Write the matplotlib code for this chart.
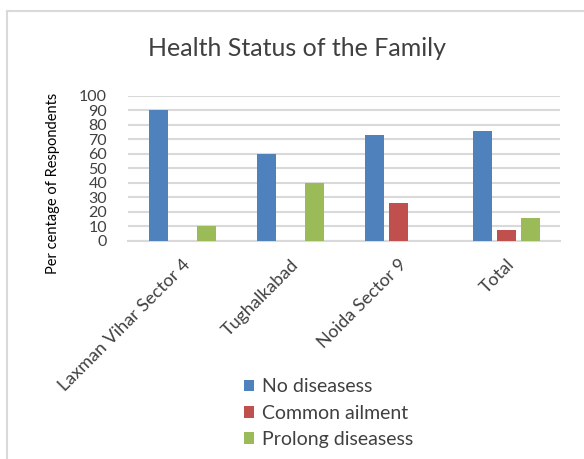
import matplotlib
matplotlib.use("Agg")
import matplotlib.pyplot as plt
import numpy as np
from matplotlib.lines import Line2D

categories = ["Laxman Vihar Sector 4", "Tughalkabad", "Noida Sector 9", "Total"]
series_names = ["No diseasess", "Common ailment", "Prolong diseasess"]
no_disease = [90, 60, 73, 76]
common_ailment = [0, 0, 26, 7.5]
prolong_disease = [10, 40, 0, 16]
yticks = [0, 10, 20, 30, 40, 50, 60, 70, 80, 90, 100]
colors = ["#4f81bd", "#c0504d", "#9bbb59"]

plt.rcParams['font.family'] = ['Lato', 'DejaVu Sans']

fig = plt.figure(figsize=(5.84, 4.59), dpi=100)
ax = fig.add_axes([128/584, 1-241/459, 432/584, 145/459])

x = np.arange(len(categories))
w = 19/108
step = 24/108
for i, (vals, c, n) in enumerate(zip([no_disease, common_ailment, prolong_disease], colors, series_names)):
    ax.bar(x + (i-1)*step, vals, width=w, color=c, label=n, zorder=3)

ax.set_xlim(-0.5, len(categories)-0.5)
ax.set_ylim(0, 100)
ax.set_yticks(yticks)
ax.set_yticklabels([str(t) for t in yticks], fontsize=11.5, color="#404040")
ax.yaxis.grid(True, color="#d9d9d9", lw=1.5, zorder=0)
for s in ["top", "right", "left"]:
    ax.spines[s].set_visible(False)
ax.spines["bottom"].set_color("#d9d9d9")
ax.spines["bottom"].set_linewidth(1.5)
ax.tick_params(axis="y", length=0, pad=15)
ax.set_xticks(x)
ax.set_xticklabels(categories, rotation=45, ha="right", rotation_mode="anchor",
                   fontsize=13, color="#404040")
ax.tick_params(axis="x", length=0, pad=11)

fig.text(53/584, 1-183/459, "Per centage of Respondents", fontsize=10.5,
         color="#000000", rotation=90, ha="center", va="center")

fig.text(297/584, 1-48/459, "Health Status of the Family", fontsize=18,
         color="#404040", ha="center", va="center")

fig.legend(loc="upper left", bbox_to_anchor=(226/584, 1-361/459), frameon=False,
           fontsize=14, handlelength=0.55, handleheight=0.55, handletextpad=0.4,
           labelspacing=0.48, labelcolor="#404040")

# chart border (top and left visible)
fig.add_artist(Line2D([7/584, 1], [1-11/459, 1-11/459], color="#d9d9d9", lw=1.5, transform=fig.transFigure))
fig.add_artist(Line2D([7/584, 7/584], [0, 1-11/459], color="#d9d9d9", lw=1.5, transform=fig.transFigure))

fig.savefig("out.png", dpi=100)
